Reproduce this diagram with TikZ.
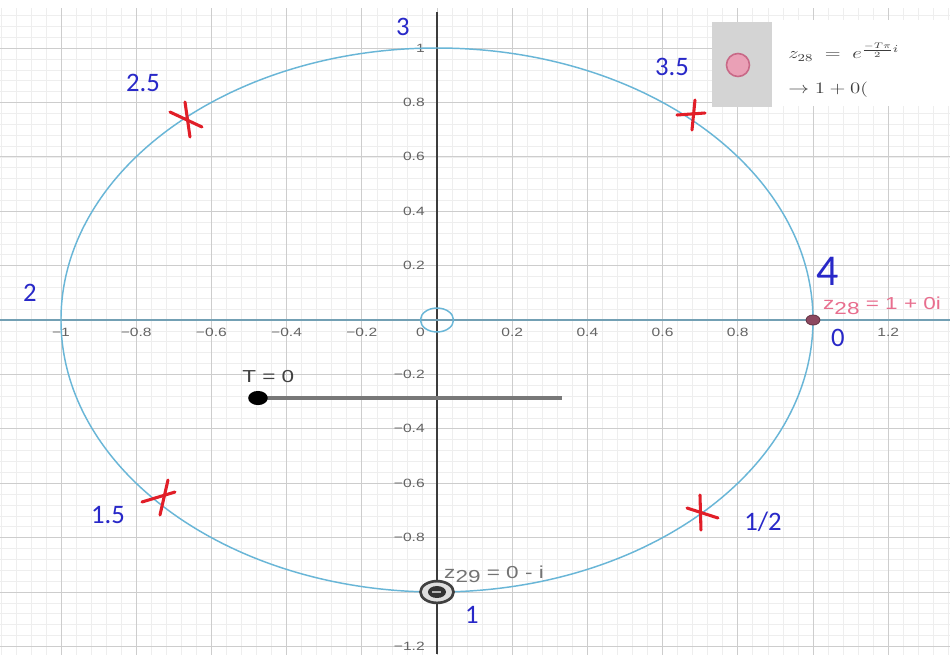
\documentclass[tikz,border=0pt]{standalone}
\usepackage{fontspec}
\newfontfamily\labfont{Carlito}
\newfontfamily\ggb[FakeStretch=1.3]{Liberation Sans}
\definecolor{gridmajor}{RGB}{205,205,205}
\definecolor{gridminor}{RGB}{238,238,238}
\definecolor{curveblue}{RGB}{105,182,215}
\definecolor{xaxiscol}{RGB}{115,160,180}
\definecolor{yaxiscol}{RGB}{60,60,60}
\definecolor{crossred}{RGB}{225,30,40}
\definecolor{labblue}{RGB}{40,40,200}
\definecolor{tickgray}{RGB}{100,100,100}
\definecolor{pinklab}{RGB}{232,110,142}
\definecolor{ptmaroon}{RGB}{140,72,96}
\definecolor{ptpink}{RGB}{234,160,182}
\definecolor{ptpinkdark}{RGB}{200,105,135}
\definecolor{boxgray}{RGB}{212,212,212}
\definecolor{slidergray}{RGB}{120,120,120}
\definecolor{legtext}{RGB}{60,60,60}
\tikzset{
  minorline/.style={gridminor, line width=0.45pt},
  majorline/.style={gridmajor, line width=0.6pt},
  crossmark/.style={crossred, line width=2.3pt, line cap=round},
  bluelab/.style={labblue, font=\labfont\fontsize{20}{22}\selectfont, inner sep=0pt},
  xtick/.style={tickgray, font=\ggb\fontsize{9}{10}\selectfont, inner sep=0pt, anchor=north},
  ytick/.style={tickgray, font=\ggb\fontsize{9}{10}\selectfont, inner sep=0pt, anchor=east},
  ptlabel/.style={font=\ggb\fontsize{13}{15}\selectfont, inner sep=0pt, anchor=base west},
  legendtext/.style={legtext, font=\fontsize{11.5}{13}\selectfont, inner sep=0pt, anchor=west}
}
\begin{document}
\begin{tikzpicture}[x=282pt, y=204pt]
\useasboundingbox (-1.1622,-1.2279) rectangle (1.3644,1.1765);
\fill[white] (-1.1622,-1.2279) rectangle (1.3644,1.1765);
% grid
\begin{scope}
\clip (-1.1622,-1.2279) rectangle (1.3644,1.147);
\foreach \i in {-30,...,35} \draw[minorline] (\i*0.04,-1.3) -- (\i*0.04,1.2);
\foreach \j in {-31,...,30} \draw[minorline] (-1.2,\j*0.04) -- (1.4,\j*0.04);
\foreach \i in {-6,...,7} \draw[majorline] (\i*0.2,-1.3) -- (\i*0.2,1.2);
\foreach \j in {-6,...,6} \draw[majorline] (-1.2,\j*0.2) -- (1.4,\j*0.2);
\end{scope}
% legend panel
\fill[white] (0.891,0.7868) rectangle (1.3644,1.1029);
\fill[boxgray] (0.7314,0.7831) rectangle (0.891,1.0956);
\filldraw[fill=ptpink, draw=ptpinkdark, line width=1.2pt] (0.8005,0.9375) circle [x radius=0.0306, y radius=0.0423];
\node[legendtext] (leg1) at (0.9335,0.9853) {\scalebox{1.3}[1]{$z_{28}\;=\;e^{\frac{-T\pi}{2}i}$}};
\node[legendtext] (leg2) at (0.9335,0.8456) {\scalebox{1.3}[1]{$\rightarrow 1 + 0$(}};
% axes
\draw[yaxiscol, line width=1.2pt] (0,-1.2279) -- (0,1.132);
\draw[xaxiscol, line width=1.2pt] (-1.1622,0) -- (1.3644,0);
% tick labels
\foreach \v/\t in {-1/−1,-0.8/−0.8,-0.6/−0.6,-0.4/−0.4,-0.2/−0.2,0.2/0.2,0.4/0.4,0.6/0.6,0.8/0.8,1.2/1.2}
  \node[xtick] at (\v,-0.0294) {\t};
\node[xtick, anchor=north east] (zero) at (-0.0319,-0.0294) {0};
\foreach \v/\t in {1/1,0.8/0.8,0.6/0.6,0.4/0.4,0.2/0.2,-0.2/−0.2,-0.4/−0.4,-0.6/−0.6,-0.8/−0.8,-1.2/−1.2}
  \node[ytick] at (-0.0319,\v) {\t};
% curve
\draw[curveblue, line width=1.1pt] (0,0) circle [radius=1];
\draw[curveblue, line width=1.1pt] (0,0) circle [radius=0.044];
% slider
\coordinate (s0) at (-0.4761,-0.2868);
\coordinate (s1) at (0.3324,-0.2868);
\draw[slidergray, line width=3pt] (s0) -- (s1);
\fill[black] (s0) circle [radius=0.026];
\node[ptlabel, text=black!75] (tlab) at (-0.5186,-0.2279) {T = 0};
% points
\filldraw[fill=ptmaroon, draw=ptmaroon!70!black, line width=0.6pt] (1,0) circle [radius=0.0185];
\node[ptlabel, text=pinklab] (z28) at (1.0265,0.038) {z\raisebox{-0.5ex}{28} = 1 + 0i};
\filldraw[fill=gray!25, draw=black!75, line width=2pt] (0,-1) circle [x radius=0.044, y radius=0.04];
\fill[black!80] (0,-1) circle [x radius=0.024, y radius=0.022];
\draw[gray!60, line width=0.8pt] (-0.012,-1) -- (0.012,-1);
\node[ptlabel, text=black!55] (z29) at (0.0186,-0.9485) {z\raisebox{-0.5ex}{29} = 0 - i};
% red crosses
\draw[crossmark] (-0.7101,0.7647) -- (-0.625,0.7096);
\draw[crossmark] (-0.6702,0.8015) -- (-0.6569,0.6728);
\draw[crossmark] (0.6383,0.7537) -- (0.7128,0.7610);
\draw[crossmark] (0.6862,0.8088) -- (0.6782,0.6985);
\draw[crossmark] (-0.7846,-0.6691) -- (-0.6968,-0.6324);
\draw[crossmark] (-0.7154,-0.5882) -- (-0.7367,-0.7169);
\draw[crossmark] (0.6649,-0.6912) -- (0.7473,-0.7279);
\draw[crossmark] (0.6995,-0.6434) -- (0.7021,-0.7721);
% blue labels
\node[bluelab] (l3) at (-0.0904,1.0772) {3};
\node[bluelab] (l25) at (-0.7819,0.8713) {2.5};
\node[bluelab] (l35) at (0.6250,0.9301) {3.5};
\node[bluelab, font=\labfont\fontsize{33}{36}\selectfont] (l4) at (1.0399,0.18) {4};
\node[bluelab] (l0) at (1.0665,-0.0662) {0};
\node[bluelab] (l2) at (-1.0824,0.0993) {2};
\node[bluelab] (l15) at (-0.875,-0.7169) {1.5};
\node[bluelab] (lhalf) at (0.867,-0.7426) {1/2};
\node[bluelab] (l1) at (0.0931,-1.0846) {1};
\end{tikzpicture}
\end{document}
